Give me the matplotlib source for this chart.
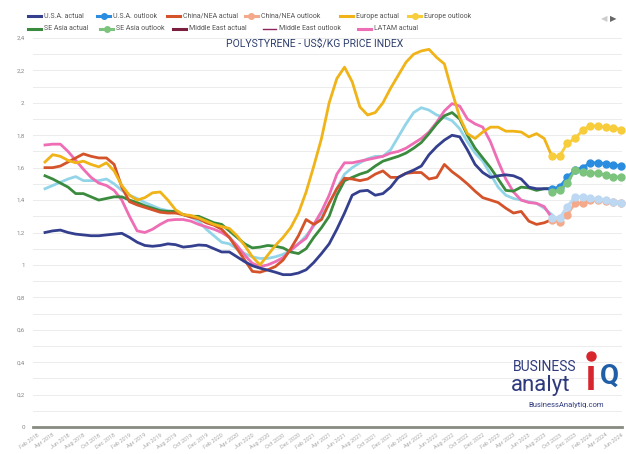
import matplotlib
matplotlib.use('Agg')
import matplotlib.pyplot as plt
from matplotlib.lines import Line2D
import numpy as np
import pandas as pd

plt.rcParams['font.family'] = ['Roboto', 'DejaVu Sans']

# monthly values, Mar 2018 .. Sep 2023
usa = [1.20, 1.21, 1.215, 1.20, 1.19, 1.185, 1.18, 1.18, 1.185, 1.19,
       1.195, 1.17, 1.14, 1.12, 1.115, 1.12, 1.13, 1.125, 1.11, 1.115,
       1.123, 1.12, 1.10, 1.08, 1.08, 1.05, 1.02, 0.995, 0.98, 0.968,
       0.955, 0.94, 0.94, 0.95, 0.97, 1.015, 1.07, 1.13, 1.22, 1.32,
       1.43, 1.455, 1.46, 1.43, 1.44, 1.48, 1.54, 1.565, 1.585, 1.61,
       1.68, 1.73, 1.77, 1.80, 1.79, 1.71, 1.62, 1.57, 1.54, 1.55,
       1.556, 1.55, 1.53, 1.48, 1.47, 1.47, 1.47]
china = [1.60, 1.60, 1.61, 1.635, 1.66, 1.685, 1.67, 1.66, 1.66, 1.62,
         1.48, 1.39, 1.37, 1.355, 1.34, 1.325, 1.32, 1.32, 1.31, 1.295,
         1.285, 1.26, 1.245, 1.22, 1.17, 1.10, 1.03, 0.96, 0.955, 0.97,
         0.99, 1.03, 1.10, 1.18, 1.28, 1.25, 1.28, 1.38, 1.47, 1.535,
         1.53, 1.52, 1.53, 1.56, 1.58, 1.54, 1.54, 1.565, 1.57, 1.57,
         1.53, 1.54, 1.62, 1.575, 1.54, 1.50, 1.455, 1.415, 1.40, 1.385,
         1.35, 1.32, 1.33, 1.27, 1.25, 1.26, 1.28]
europe = [1.635, 1.68, 1.67, 1.645, 1.63, 1.64, 1.62, 1.605, 1.63, 1.58,
          1.49, 1.43, 1.40, 1.415, 1.445, 1.45, 1.40, 1.34, 1.31, 1.305,
          1.29, 1.27, 1.25, 1.237, 1.225, 1.18, 1.12, 1.05, 1.00, 1.06,
          1.12, 1.17, 1.23, 1.32, 1.45, 1.61, 1.78, 2.00, 2.15, 2.22,
          2.13, 1.975, 1.925, 1.94, 2.00, 2.09, 2.17, 2.25, 2.30, 2.32,
          2.33, 2.28, 2.24, 2.07, 1.91, 1.81, 1.78, 1.82, 1.85, 1.85,
          1.825, 1.825, 1.82, 1.79, 1.81, 1.78, 1.67]
se_asia = [1.55, 1.53, 1.505, 1.48, 1.44, 1.44, 1.42, 1.40, 1.41, 1.42,
           1.42, 1.40, 1.385, 1.365, 1.35, 1.335, 1.33, 1.33, 1.31, 1.30,
           1.30, 1.28, 1.26, 1.25, 1.21, 1.17, 1.13, 1.105, 1.11, 1.12,
           1.115, 1.105, 1.08, 1.07, 1.10, 1.17, 1.23, 1.30, 1.43, 1.52,
           1.54, 1.56, 1.575, 1.61, 1.64, 1.655, 1.67, 1.69, 1.72, 1.755,
           1.81, 1.87, 1.92, 1.94, 1.90, 1.80, 1.72, 1.66, 1.60, 1.53,
           1.46, 1.455, 1.48, 1.475, 1.46, 1.47, 1.47]
latam = [1.74, 1.745, 1.745, 1.70, 1.645, 1.59, 1.54, 1.505, 1.49, 1.46,
         1.40, 1.30, 1.21, 1.20, 1.22, 1.25, 1.275, 1.28, 1.28, 1.27,
         1.25, 1.235, 1.22, 1.20, 1.17, 1.12, 1.06, 1.01, 0.99, 1.00,
         1.02, 1.045, 1.09, 1.13, 1.165, 1.25, 1.33, 1.43, 1.56, 1.63,
         1.63, 1.64, 1.65, 1.66, 1.67, 1.69, 1.70, 1.72, 1.75, 1.78,
         1.82, 1.88, 1.95, 1.995, 1.98, 1.90, 1.87, 1.85, 1.76, 1.64,
         1.53, 1.45, 1.40, 1.385, 1.38, 1.36, 1.29]
light_blue = [1.47, 1.49, 1.51, 1.53, 1.545, 1.52, 1.52, 1.52, 1.53, 1.50,
              1.46, 1.43, 1.41, 1.385, 1.365, 1.345, 1.335, 1.33, 1.31, 1.295,
              1.27, 1.22, 1.18, 1.14, 1.13, 1.10, 1.07, 1.05, 1.04, 1.04,
              1.05, 1.065, 1.09, 1.13, 1.18, 1.24, 1.30, 1.38, 1.47, 1.56,
              1.60, 1.63, 1.655, 1.67, 1.67, 1.71, 1.79, 1.87, 1.94, 1.97,
              1.955, 1.925, 1.91, 1.89, 1.84, 1.76, 1.69, 1.64, 1.56, 1.48,
              1.43, 1.41, 1.40, 1.39, 1.38, 1.35, 1.31]

# outlook, Sep 2023 .. Jun 2024
usa_out = [1.47, 1.48, 1.54, 1.585, 1.60, 1.63, 1.63, 1.625, 1.617, 1.61]
china_out = [1.28, 1.265, 1.31, 1.38, 1.38, 1.40, 1.40, 1.395, 1.39, 1.385]
europe_out = [1.67, 1.67, 1.75, 1.78, 1.83, 1.86, 1.855, 1.85, 1.845, 1.835]
se_asia_out = [1.45, 1.46, 1.505, 1.585, 1.575, 1.57, 1.565, 1.555, 1.545, 1.54]
light_blue_out = [1.29, 1.29, 1.36, 1.42, 1.42, 1.41, 1.405, 1.40, 1.39, 1.385]

x_labels = list(pd.date_range('2018-02-01', '2024-06-01', freq='2MS').strftime('%b %Y'))

W, H = 626, 454


def fx(x):
    return x / W


def fy(y):
    return 1 - y / H


fig = plt.figure(figsize=(W / 100, H / 100), dpi=100)
ax = fig.add_axes([fx(33), fy(427), (622 - 33) / W, (427 - 38) / H])

n = len(usa)
xa = np.arange(n)
xo = np.arange(n - 1, n - 1 + len(usa_out))

lw = 2.0
ax.plot(xa, light_blue, color='#93d5e8', lw=lw, zorder=3)
ax.plot(xa, latam, color='#ee6db4', lw=lw, zorder=3)
ax.plot(xa, se_asia, color='#3b8b3e', lw=lw, zorder=4)
ax.plot(xa, china, color='#d4532b', lw=lw, zorder=4)
ax.plot(xa, usa, color='#34408e', lw=lw, zorder=5)
ax.plot(xa, europe, color='#f0b318', lw=lw, zorder=4)

ax.plot(xo, europe_out, color='#f7cd3c', lw=lw, marker='o', ms=5, clip_on=False, zorder=6)
ax.plot(xo, usa_out, color='#2b8de0', lw=lw, marker='o', ms=5, clip_on=False, zorder=6)
ax.plot(xo, se_asia_out, color='#7cc47d', lw=lw, marker='o', ms=5, clip_on=False, zorder=6)
ax.plot(xo, china_out, color='#f4a98a', lw=lw, marker='o', ms=5, clip_on=False, zorder=6)
ax.plot(xo, light_blue_out, color='#bdd8f2', lw=lw, marker='o', ms=5, clip_on=False, zorder=7)

ax.set_xlim(-1.5625, 75.13)
ax.set_ylim(0, 2.4)
ax.set_yticks(np.arange(0, 2.41, 0.2))
ax.set_yticklabels(['{:g}'.format(round(v, 1)).replace('.', ',') for v in np.arange(0, 2.41, 0.2)])
ax.set_yticks(np.arange(0.1, 2.4, 0.2), minor=True)
ax.grid(axis='y', which='both', color='#ececec', lw=0.7)
ax.set_axisbelow(True)

ax.set_xticks(np.arange(-1, 76, 2))
ax.set_xticklabels(x_labels, rotation=35, ha='right', rotation_mode='anchor')
ax.tick_params(axis='x', length=0, labelsize=4, labelcolor='#a8a8a8', pad=4)
ax.tick_params(axis='y', which='both', length=0, labelsize=4.5, labelcolor='#888888', pad=6)

for s in ['top', 'right', 'left']:
    ax.spines[s].set_visible(False)
ax.spines['bottom'].set_color('#878b80')
ax.spines['bottom'].set_linewidth(2)

fig.text(fx(315), fy(44), r'POLYSTYRENE - US\$/KG PRICE INDEX', ha='center', va='center',
         fontsize=7.5, color='#2f3f6e')

# legend, two rows
legend_rows = [
    (16, [(28, 'U.S.A. actual', '#34408e', False), (97, 'U.S.A. outlook', '#2b8de0', True),
          (167, 'China/NEA actual', '#d4532b', False), (245, 'China/NEA outlook', '#f4a98a', True),
          (340, 'Europe actual', '#f0b318', False), (408, 'Europe outlook', '#f7cd3c', True)]),
    (29, [(28, 'SE Asia actual', '#3b8b3e', False), (100, 'SE Asia outlook', '#7cc47d', True),
          (173, 'Middle East actual', '#7a1f3d', False), (263, 'Middle East outlook', '#8e2459', None),
          (358, 'LATAM actual', '#ee6db4', False)]),
]
for y, items in legend_rows:
    for x, label, color, dot in items:
        fig.add_artist(Line2D([fx(x), fx(x + 13)], [fy(y), fy(y)], color=color,
                              lw=1.0 if dot is None else 2.2, transform=fig.transFigure))
        if dot:
            fig.add_artist(Line2D([fx(x + 6.5)], [fy(y)], marker='o', ms=4, color=color,
                                  transform=fig.transFigure))
        fig.text(fx(x + 16), fy(y), label, fontsize=5, color='#555555', va='center')

fig.text(fx(604), fy(19), '\u25c0', fontsize=6, color='#cccccc', ha='center', va='center',
         family='DejaVu Sans')
fig.text(fx(613), fy(19), '\u25b6', fontsize=6, color='#666666', ha='center', va='center',
         family='DejaVu Sans')

# logo
fig.text(fx(513), fy(367), 'BUSINESS', fontsize=10, color='#2e3a7c', va='center')
fig.text(fx(511), fy(385), 'analyt', fontsize=16, color='#2e3a7c', va='center')
fig.add_artist(Line2D([fx(591), fx(591)], [fy(366), fy(390)], color='#d7262e', lw=4,
                      solid_capstyle='butt', transform=fig.transFigure))
fig.add_artist(Line2D([fx(591)], [fy(356)], marker='o', ms=6.5, color='#d7262e',
                      transform=fig.transFigure))
fig.text(fx(609), fy(376), 'Q', fontsize=20, color='#1f5fa8', ha='center', va='center',
         fontweight='bold')
fig.text(fx(566), fy(405), 'BusinessAnalytiq.com', fontsize=5.5, color='#2e3a7c',
         ha='center', va='center')

fig.savefig('out.png', dpi=100)
